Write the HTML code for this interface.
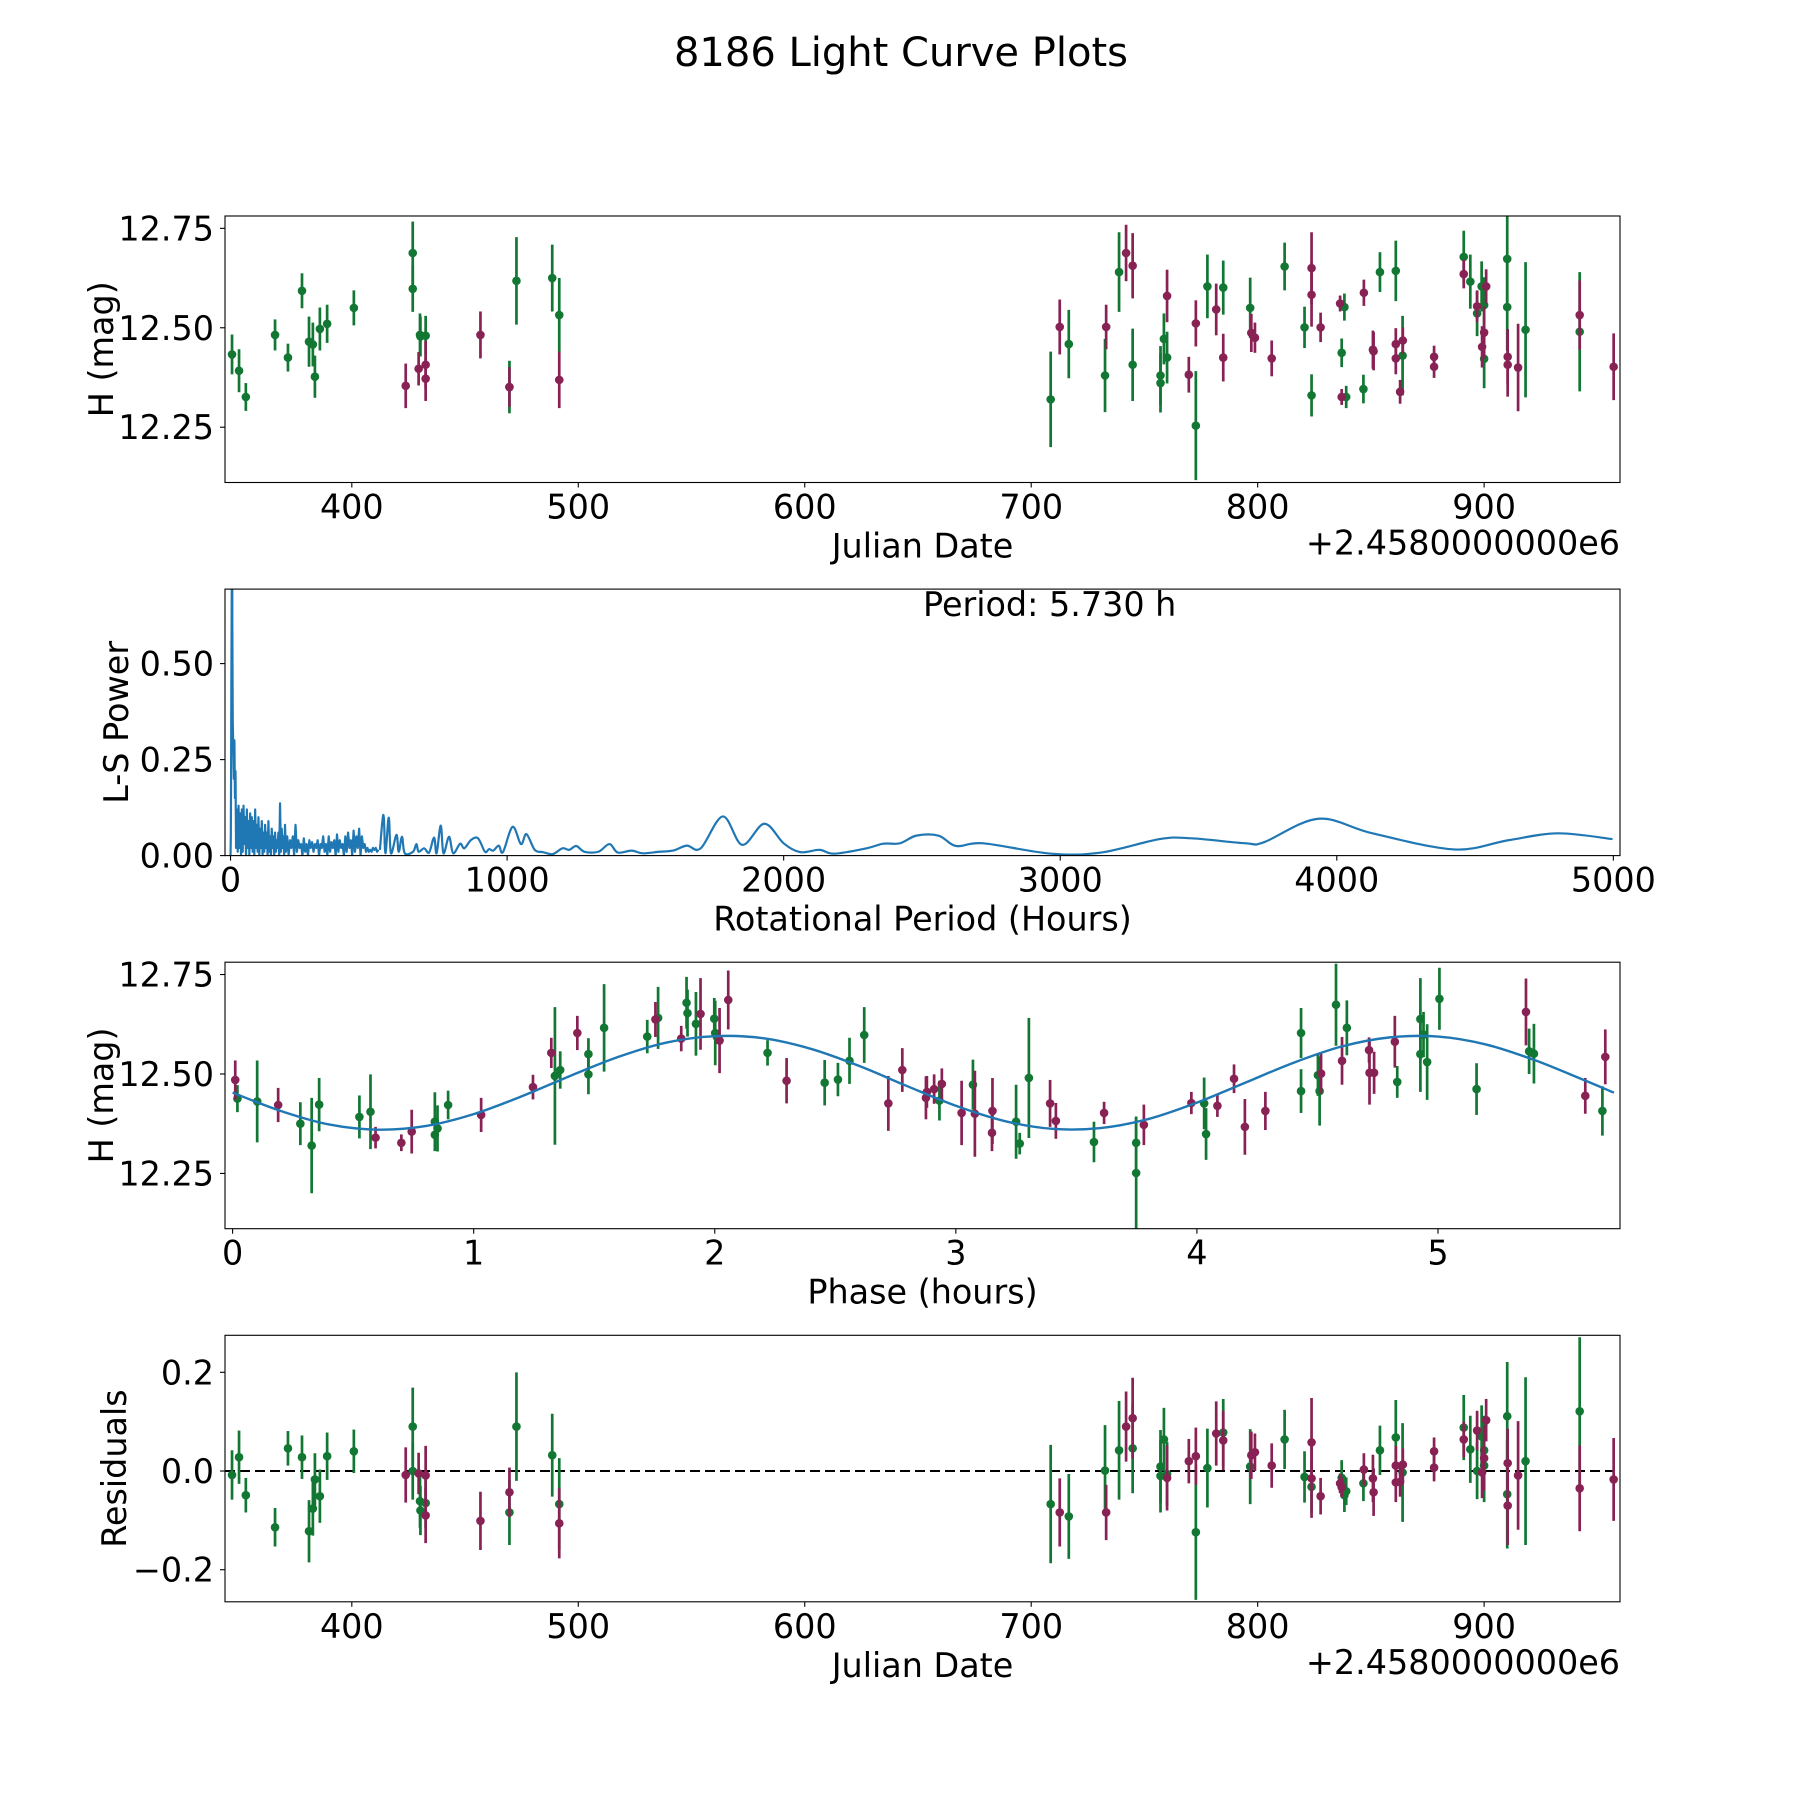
<!DOCTYPE html>
<html><head><meta charset="utf-8"><title>8186 Light Curve Plots</title>
<style>
html,body{margin:0;padding:0;background:#fff;}
svg{display:block;font-family:"DejaVu Sans","Liberation Sans",sans-serif;}
</style></head>
<body>
<svg id="fig" width="1800" height="1800" viewBox="0 0 1800 1800">
<text x="901" y="66" font-size="40" text-anchor="middle">8186 Light Curve Plots</text>
</svg>
<script>
// ---- Panel 1 / 4 : photometry vs Julian date ----
const jdDates = [347.1,350.2,353.2,366.1,371.8,378.0,381.1,382.8,383.7,385.9,389.1,400.9,423.8,426.9,426.9,429.5,430.1,430.3,432.6,432.6,432.6,456.8,469.6,469.6,472.7,488.5,491.6,491.6,
708.6,712.6,716.6,732.6,733.1,738.8,741.9,744.8,744.8,757.1,757.1,758.6,760.0,760.0,769.6,772.7,772.7,777.8,781.7,784.8,784.8,796.7,797.2,798.8,806.2,811.9,820.7,823.8,823.8,823.8,827.8,836.4,838.3,837.1,837.1,839.1,846.9,846.7,850.9,851.2,854.0,861.0,861.0,861.0,864.1,864.0,862.9,877.9,877.9,891.0,891.0,893.9,896.9,896.9,898.9,900.9,900.0,900.0,899.1,900.0,910.2,910.2,910.4,910.4,915.0,918.3,942.2,942.2,957.2];
const jdMag = [12.433,12.392,12.326,12.482,12.425,12.593,12.465,12.458,12.377,12.497,12.510,12.550,12.354,12.688,12.598,12.397,12.482,12.478,12.480,12.407,12.372,12.482,12.351,12.351,12.618,12.625,12.532,12.369,
12.320,12.502,12.459,12.380,12.502,12.640,12.688,12.656,12.407,12.380,12.361,12.472,12.425,12.580,12.382,12.254,12.511,12.604,12.546,12.601,12.425,12.550,12.487,12.475,12.423,12.654,12.501,12.650,12.583,12.330,12.501,12.561,12.552,12.437,12.326,12.326,12.588,12.346,12.445,12.441,12.640,12.643,12.459,12.423,12.468,12.430,12.339,12.427,12.402,12.678,12.635,12.616,12.554,12.536,12.604,12.604,12.557,12.488,12.452,12.422,12.673,12.552,12.427,12.407,12.400,12.495,12.532,12.490,12.402];
const jdErr = [0.05,0.054,0.035,0.039,0.035,0.044,0.063,0.055,0.053,0.054,0.048,0.044,0.056,0.079,0.058,0.042,0.054,0.05,0.05,0.06,0.056,0.059,0.05,0.066,0.11,0.084,0.093,0.071,
0.12,0.069,0.086,0.092,0.056,0.10,0.071,0.082,0.091,0.074,0.074,0.064,0.065,0.066,0.045,0.137,0.058,0.08,0.065,0.068,0.06,0.076,0.048,0.038,0.045,0.06,0.052,0.09,0.08,0.053,0.037,0.02,0.034,0.036,0.02,0.028,0.033,0.036,0.048,0.048,0.05,0.076,0.04,0.04,0.033,0.10,0.03,0.028,0.028,0.066,0.036,0.068,0.04,0.057,0.063,0.043,0.07,0.066,0.052,0.074,0.11,0.11,0.07,0.08,0.11,0.17,0.087,0.15,0.084];
const jdBand = ['G','G','G','G','G','G','G','G','G','G','G','G','M','G','G','M','G','G','G','M','M','M','M','G','G','G','G','M',
'G','M','G','G','M','G','M','M','G','G','G','G','G','M','M','G','M','G','M','G','M','G','M','M','M','G','G','M','M','G','M','M','G','G','M','G','M','G','M','M','G','G','M','M','M','G','M','M','M','G','M','G','M','G','G','M','G','M','M','G','G','G','M','M','M','G','M','G','M'];
const jdResid = [-0.008,0.028,-0.049,-0.114,0.046,0.028,-0.122,-0.076,-0.017,-0.051,0.030,0.040,-0.008,0.090,0.000,-0.005,-0.061,-0.080,-0.065,-0.009,-0.090,-0.101,-0.043,-0.084,0.090,0.032,-0.067,-0.106,
-0.067,-0.084,-0.092,0.001,-0.084,0.042,0.090,0.107,0.046,0.009,-0.010,0.064,-0.006,-0.014,0.020,-0.124,0.030,0.006,0.076,0.078,0.062,0.009,0.032,0.038,0.011,0.064,-0.012,0.058,-0.015,-0.032,-0.051,-0.025,-0.049,-0.014,-0.033,-0.041,0.003,-0.025,-0.015,-0.043,0.042,0.068,0.011,-0.023,0.013,-0.003,-0.022,0.040,0.007,0.088,0.064,0.044,0.082,0.000,0.070,0.103,0.042,0.026,-0.003,0.011,0.111,-0.047,0.016,-0.070,-0.009,0.020,-0.035,0.121,-0.017];
const jdTicks = [400,500,600,700,800,900];
const magTicks = [12.25,12.50,12.75];
const magTickLabels = ["12.25","12.50","12.75"];
const residTicks = [-0.2,0.0,0.2];
const residTickLabels = ["\u22120.2","0.0","0.2"];

// ---- Panel 2 : Lomb-Scargle periodogram ----
const lsPeriod = [0,1,2,3,4,5,5.73,6.5,8,10,12,14,16,18,20,23,26,29,32,35,38,41,44,47,50,53,56,59,62,65,68,71,74,77,80,83,86,89,92,95,98,101,104,107,110,113,116,119,122,125,128,131,134,137,140,143,146,149,152,155,158,161,164,167,170,173,176,179,182,185,188,191,194,197,200,205,210,215,220,225,230,235,240,245,250,255,260,265,270,275,280,285,290,295,300,305,310,315,320,325,330,335,340,345,350,355,360,365,370,375,380,385,390,395,400,405,410,415,420,425,430,435,440,445,450,455,460,465,470,475,480,485,490,495,500,505,510,515,520,525,530,535];
const lsPower = [0,0.05,0.2,0.45,0.62,0.8,1.0,0.6,0.35,0.28,0.2,0.3,0.15,0.22,0.02,0.12,0.01,0.13,0.02,0.11,0.0,0.12,0.01,0.13,0.03,0.1,0.0,0.12,0.02,0.09,0.0,0.11,0.02,0.1,0.01,0.09,0.0,0.12,0.02,0.08,0.01,0.1,0.0,0.07,0.02,0.09,0.0,0.06,0.01,0.08,0.02,0.06,0.0,0.09,0.01,0.05,0.0,0.07,0.02,0.05,0.0,0.06,0.01,0.04,0.02,0.06,0.0,0.136,0.01,0.07,0.02,0.05,0.0,0.08,0.01,0.05,0.0,0.04,0.02,0.05,0.0,0.08,0.01,0.04,0.02,0.03,0.0,0.045,0.01,0.03,0.0,0.04,0.02,0.035,0.01,0.03,0.02,0.04,0.0,0.03,0.02,0.05,0.01,0.03,0.0,0.05,0.01,0.035,0.02,0.04,0.0,0.055,0.01,0.04,0.02,0.03,0.0,0.05,0.01,0.06,0.02,0.04,0.0,0.065,0.01,0.05,0.02,0.07,0.0,0.05,0.02,0.03,0.01,0.02,0.01,0.015,0.01,0.02,0.015,0.02,0.01,0.015];
const lsPeriodSmooth = [540,553,560,572,580,600,608,620,630,660,672,680,700,718,736,745,760,770,790,805,830,845,870,895,920,935,950,970,985,1020,1050,1070,1100,1130,1165,1200,1225,1250,1280,1330,1370,1400,1450,1490,1550,1600,1650,1700,1780,1850,1930,2000,2060,2130,2183,2300,2360,2420,2480,2560,2624,2722,2967,3147,3360,3475,3671,3737,3933,4129,4424,4620,4800,4997];
const lsPowerSmooth = [0.015,0.106,0.006,0.099,0.006,0.054,0.010,0.049,0.006,0.010,0.030,0.010,0.019,0.008,0.047,0.006,0.078,0.006,0.049,0.006,0.031,0.019,0.041,0.045,0.010,0.017,0.013,0.026,0.009,0.075,0.030,0.056,0.015,0.009,0.004,0.019,0.015,0.025,0.010,0.010,0.030,0.008,0.013,0.006,0.010,0.013,0.026,0.019,0.102,0.028,0.083,0.032,0.009,0.015,0.005,0.019,0.031,0.032,0.052,0.052,0.025,0.032,0.005,0.008,0.043,0.045,0.032,0.035,0.096,0.058,0.016,0.040,0.058,0.043];
const lsXTicks = [0,1000,2000,3000,4000,5000];
const lsYTicks = [0,0.25,0.5];
const lsYTickLabels = ["0.00","0.25","0.50"];

// ---- Panel 3 : phase-folded ----
const phase = [0.011,0.020,0.102,0.189,0.281,0.328,0.359,0.526,0.572,0.593,0.700,0.743,0.839,0.839,0.850,0.894,1.031,1.246,1.322,1.337,1.359,1.430,1.476,1.476,1.541,1.720,1.754,1.765,1.861,1.883,1.887,1.922,1.941,1.998,2.002,2.020,2.056,2.219,2.298,2.456,2.511,2.559,2.620,2.720,2.778,
2.876,2.880,2.910,2.942,2.932,3.024,3.071,3.079,3.152,3.150,3.250,3.265,3.303,3.391,3.415,3.573,3.615,3.748,3.748,3.780,3.977,4.030,4.038,4.085,4.154,4.199,4.284,4.432,4.432,4.502,4.515,4.509,4.577,4.602,4.622,4.714,4.716,4.735,4.821,4.831,4.927,4.927,4.940,4.955,5.006,5.160,5.365,5.378,5.398,5.611,5.682,5.694];
const phaseMag = [12.485,12.438,12.431,12.422,12.375,12.320,12.423,12.392,12.405,12.340,12.327,12.355,12.380,12.347,12.363,12.422,12.397,12.467,12.553,12.495,12.510,12.603,12.550,12.499,12.616,12.594,12.637,12.641,12.589,12.679,12.653,12.626,12.651,12.639,12.603,12.584,12.686,12.553,12.483,12.478,12.486,12.533,12.598,12.426,12.510,
12.440,12.455,12.462,12.475,12.433,12.402,12.473,12.400,12.407,12.352,12.380,12.325,12.490,12.426,12.382,12.329,12.402,12.327,12.251,12.372,12.427,12.426,12.349,12.420,12.488,12.367,12.407,12.603,12.457,12.497,12.501,12.457,12.674,12.533,12.616,12.560,12.503,12.503,12.581,12.480,12.638,12.550,12.599,12.530,12.689,12.462,12.656,12.557,12.551,12.445,12.407,12.543];
const phaseErr = [0.049,0.034,0.103,0.043,0.054,0.12,0.067,0.054,0.094,0.027,0.021,0.055,0.074,0.04,0.058,0.036,0.043,0.031,0.038,0.173,0.047,0.043,0.04,0.05,0.11,0.042,0.044,0.078,0.032,0.065,0.059,0.08,0.09,0.052,0.081,0.082,0.074,0.032,0.057,0.057,0.042,0.058,0.07,0.069,0.055,
0.054,0.04,0.037,0.039,0.05,0.081,0.063,0.108,0.083,0.046,0.093,0.027,0.151,0.059,0.045,0.051,0.028,0.066,0.14,0.051,0.028,0.065,0.065,0.028,0.036,0.07,0.048,0.063,0.055,0.052,0.05,0.087,0.103,0.06,0.069,0.032,0.08,0.053,0.065,0.04,0.103,0.095,0.057,0.095,0.078,0.065,0.084,0.057,0.075,0.045,0.062,0.069];
const phaseBand = ['M','G','G','M','G','G','G','G','G','M','M','M','G','G','G','G','M','M','M','G','G','M','G','G','G','G','M','G','M','G','G','G','M','G','G','M','M','G','M','G','G','G','G','M','M',
'M','M','M','M','G','M','G','M','M','M','G','G','G','M','M','G','M','G','G','M','M','G','G','M','M','M','M','G','G','G','M','G','G','M','G','M','M','M','M','G','G','G','G','G','G','G','M','G','G','M','G','M'];
const modelPhase = [0,0.2,0.4,0.6,0.8,1.0,1.2,1.4,1.6,1.8,2.0,2.2,2.4,2.6,2.8,3.0,3.2,3.4,3.6,3.8,4.0,4.2,4.4,4.6,4.8,5.0,5.2,5.4,5.6,5.73];
const modelMag = [12.453,12.407,12.373,12.360,12.369,12.399,12.444,12.495,12.543,12.579,12.595,12.590,12.563,12.520,12.469,12.420,12.382,12.362,12.364,12.387,12.428,12.478,12.528,12.569,12.592,12.594,12.574,12.535,12.486,12.453];
const phaseTicks = [0,1,2,3,4,5];

const NS = "http://www.w3.org/2000/svg";
const fig = document.getElementById('fig');
const GREEN = "#117733", MAG = "#882255", BLUE = "#1f77b4";
const FS = 33.4;
function mk(tag, attrs, parent) {
  const e = document.createElementNS(NS, tag);
  for (const k in attrs) e.setAttribute(k, attrs[k]);
  (parent || fig).appendChild(e);
  return e;
}
const L = 225, R = 1620, H = 266.5;
const TOPS = [216, 589.1, 962.2, 1335.3];
function axis(i, x0, x1, y0, y1) {
  const top = TOPS[i];
  return {top, bot: top + H,
    sx: v => L + (v - x0) / (x1 - x0) * (R - L),
    sy: v => top + H - (v - y0) / (y1 - y0) * H};
}
function clip(i) {
  const cp = mk('clipPath', {id: 'clip' + i});
  mk('rect', {x: L, y: TOPS[i], width: R - L, height: H}, cp);
  const g = mk('g', {'clip-path': 'url(#clip' + i + ')'});
  
  
  return g;
}
function frame(i, ax, xt, xl, yt, yl, xlabel, ylabel, ylabelX, offsetText) {
  const f = mk('rect', {x: L, y: ax.top, width: R - L, height: H, fill: 'none', stroke: '#000', 'stroke-width': 1.1});
  
  
  xt.forEach((v, k) => {
    const x = ax.sx(v);
    mk('line', {x1: x, x2: x, y1: ax.bot, y2: ax.bot + 5, stroke: '#000', 'stroke-width': 1.1});
    const t = mk('text', {x: x, y: ax.bot + 36, 'font-size': FS, 'text-anchor': 'middle'});
    t.textContent = xl[k];
    
    
  });
  yt.forEach((v, k) => {
    const y = ax.sy(v);
    mk('line', {x1: L - 5, x2: L, y1: y, y2: y, stroke: '#000', 'stroke-width': 1.1});
    const t = mk('text', {x: L - 11, y: y + 12, 'font-size': FS, 'text-anchor': 'end'});
    t.textContent = yl[k];
    
    
  });
  const xlab = mk('text', {x: (L + R) / 2, y: ax.bot + 75, 'font-size': FS, 'text-anchor': 'middle'});
  xlab.textContent = xlabel;
  
  
  const cy = ax.top + H / 2;
  const ylab = mk('text', {x: ylabelX, y: cy, 'font-size': FS, 'text-anchor': 'middle', transform: 'rotate(-90 ' + ylabelX + ' ' + cy + ')'});
  ylab.textContent = ylabel;
  
  
  if (offsetText) {
    const o = mk('text', {x: R, y: ax.bot + 72, 'font-size': FS, 'text-anchor': 'end'});
    o.textContent = offsetText;
    
    
  }
}
function errPoints(g, ax, xs, ys, es, bands) {
  ['G', 'M'].forEach(b => {
    const col = b === 'G' ? GREEN : MAG;
    xs.forEach((xv, k) => {
      if (bands[k] !== b) return;
      const x = ax.sx(xv);
      const bar = mk('line', {x1: x, x2: x, y1: ax.sy(ys[k] - es[k]), y2: ax.sy(ys[k] + es[k]), stroke: col, 'stroke-width': 2.7}, g);
      
      
      const c = mk('circle', {cx: x, cy: ax.sy(ys[k]), r: 4.3, fill: col}, g);
      
      
    });
  });
}
function smoothPath(pts) {
  let d = 'M' + pts[0][0] + ',' + pts[0][1];
  for (let i = 0; i < pts.length - 1; i++) {
    const p0 = pts[Math.max(0, i - 1)], p1 = pts[i], p2 = pts[i + 1], p3 = pts[Math.min(pts.length - 1, i + 2)];
    const c1x = p1[0] + (p2[0] - p0[0]) / 6, c1y = p1[1] + (p2[1] - p0[1]) / 6;
    const c2x = p2[0] - (p3[0] - p1[0]) / 6, c2y = p2[1] - (p3[1] - p1[1]) / 6;
    d += ' C' + c1x + ',' + c1y + ' ' + c2x + ',' + c2y + ' ' + p2[0] + ',' + p2[1];
  }
  return d;
}

// Panel 1
const ax1 = axis(0, 344, 960, 12.111, 12.781);
const g1 = clip(0);
errPoints(g1, ax1, jdDates, jdMag, jdErr, jdBand);
frame(0, ax1, jdTicks, jdTicks.map(String), magTicks, magTickLabels, 'Julian Date', 'H (mag)', 113, '+2.4580000000e6');

// Panel 2
const ax2 = axis(1, -20, 5024, 0, 0.694);
const g2 = clip(1);
let dLow = lsPeriod.map((p, k) => (k ? 'L' : 'M') + ax2.sx(p).toFixed(2) + ',' + ax2.sy(lsPower[k]).toFixed(2)).join(' ');
const lowPath = mk('path', {d: dLow, fill: 'none', stroke: BLUE, 'stroke-width': 2.2, 'stroke-linejoin': 'round'}, g2);


const smPts = lsPeriodSmooth.map((p, k) => [ax2.sx(p), ax2.sy(lsPowerSmooth[k])]);
const smPath = mk('path', {d: smoothPath(smPts), fill: 'none', stroke: BLUE, 'stroke-width': 2.2}, g2);


frame(1, ax2, lsXTicks, lsXTicks.map(String), lsYTicks, lsYTickLabels, 'Rotational Period (Hours)', 'L-S Power', 128, null);
const per = mk('text', {x: 923, y: 616, 'font-size': FS});
per.textContent = 'Period: 5.730 h';



// Panel 3
const ax3 = axis(2, -0.0315, 5.755, 12.111, 12.781);
const g3 = clip(2);
errPoints(g3, ax3, phase, phaseMag, phaseErr, phaseBand);
const mPts = modelPhase.map((p, k) => [ax3.sx(p), ax3.sy(modelMag[k])]);
const model = mk('path', {d: smoothPath(mPts), fill: 'none', stroke: BLUE, 'stroke-width': 2.4}, g3);


frame(2, ax3, phaseTicks, phaseTicks.map(String), magTicks, magTickLabels, 'Phase (hours)', 'H (mag)', 113, null);

// Panel 4
const ax4 = axis(3, 344, 960, -0.265, 0.275);
const g4 = clip(3);
const zl = mk('line', {x1: L, x2: R, y1: ax4.sy(0), y2: ax4.sy(0), stroke: '#000', 'stroke-width': 2, 'stroke-dasharray': '10,5'}, g4);


errPoints(g4, ax4, jdDates, jdResid, jdErr, jdBand);
frame(3, ax4, jdTicks, jdTicks.map(String), residTicks, residTickLabels, 'Julian Date', 'Residuals', 126, '+2.4580000000e6');
</script>
</body></html>
